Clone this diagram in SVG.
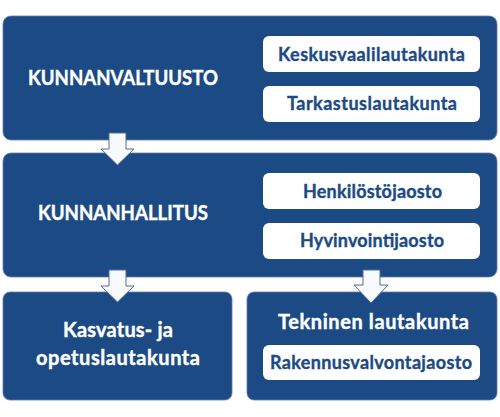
<svg xmlns="http://www.w3.org/2000/svg" width="500" height="417" viewBox="0 0 500 417">
<style>
.big{fill:#1c4a84;stroke:#5d7fae;stroke-width:0.8}
.sub{fill:#ffffff}
.tw{fill:#ffffff;stroke:#ffffff;stroke-width:0.4;font-family:Lato,"Liberation Sans",sans-serif;font-weight:bold;font-size:20px;text-anchor:middle}
.tb{fill:#1c4a84;stroke:#1c4a84;stroke-width:0.35;font-family:Lato,"Liberation Sans",sans-serif;font-weight:bold;font-size:18px;text-anchor:middle}
.arr{fill:#f8fafd;stroke:#4f6f9c;stroke-width:1}
</style>
<rect width="500" height="417" fill="#ffffff"/>
<g id="kunnanvaltuusto">
<rect class="big" x="3" y="16" width="494" height="124" rx="8"/>
<text class="tw" x="123" y="85" textLength="190" lengthAdjust="spacingAndGlyphs">KUNNANVALTUUSTO</text>
</g>
<g id="keskusvaalilautakunta">
<rect class="sub" x="263" y="36" width="217" height="36" rx="6"/>
<text class="tb" x="371.5" y="61" textLength="187">Keskusvaalilautakunta</text>
</g>
<g id="tarkastuslautakunta">
<rect class="sub" x="263" y="86" width="217" height="36" rx="6"/>
<text class="tb" x="372" y="110" textLength="170">Tarkastuslautakunta</text>
</g>
<g id="kunnanhallitus">
<rect class="big" x="3" y="153" width="494" height="124" rx="8"/>
<text class="tw" x="123" y="220" textLength="170" lengthAdjust="spacingAndGlyphs">KUNNANHALLITUS</text>
</g>
<g id="henkilostojaosto">
<rect class="sub" x="263" y="173" width="217" height="36" rx="6"/>
<text class="tb" x="372.5" y="198" textLength="139">Henkilöstöjaosto</text>
</g>
<g id="hyvinvointijaosto">
<rect class="sub" x="263" y="223" width="217" height="36" rx="6"/>
<text class="tb" x="372" y="247" textLength="144">Hyvinvointijaosto</text>
</g>
<g id="kasvatus">
<rect class="big" x="3" y="292" width="229" height="108" rx="7"/>
<text class="tw" x="118" y="337" textLength="110">Kasvatus- ja</text>
<text class="tw" x="118" y="365" textLength="164">opetuslautakunta</text>
</g>
<g id="tekninen">
<rect class="big" x="247" y="292" width="250" height="108" rx="7"/>
<text class="tw" x="373.5" y="329" textLength="191">Tekninen lautakunta</text>
</g>
<g id="rakennusvalvontajaosto">
<rect class="sub" x="263" y="345" width="217" height="35" rx="6"/>
<text class="tb" x="371" y="369" textLength="202">Rakennusvalvontajaosto</text>
</g>
<g id="connectors">
<polygon class="arr" points="109,133 126,133 126,149 134,149 117.5,165 101,149 109,149"/>
<polygon class="arr" points="109,270 126,270 126,286 134,286 117.5,302 101,286 109,286"/>
<polygon class="arr" points="363,270 380,270 380,285 388,285 371,303 354,285 363,285"/>
</g>
</svg>
